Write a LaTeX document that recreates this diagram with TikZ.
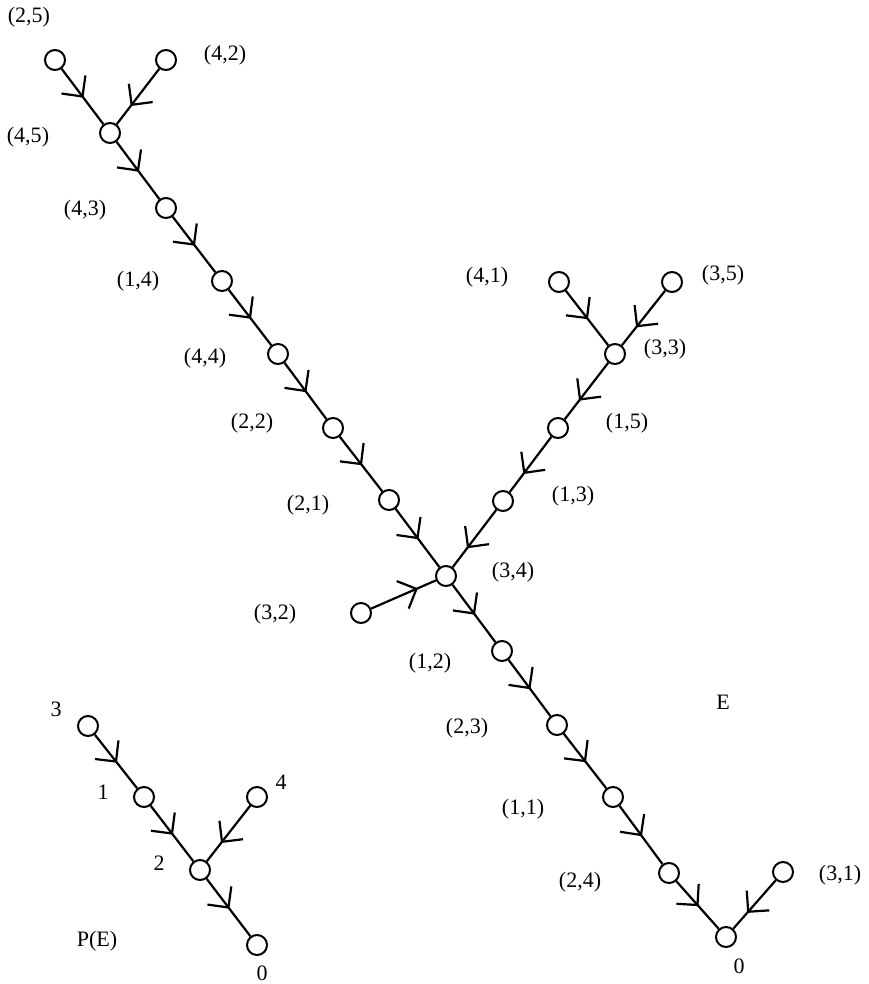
\documentclass[tikz,border=0pt]{standalone}
\usepackage{fontspec}
\setmainfont{Liberation Serif}
\usepackage{tikz}
\usetikzlibrary{arrows.meta, decorations.markings, positioning}

\begin{document}
\begin{tikzpicture}[
  x=1pt, y=-1pt,
  vert/.style={circle, draw, line width=2pt, inner sep=0pt, minimum size=20pt},
  lab/.style={inner sep=0pt, font=\fontsize{22}{26}\selectfont},
  arr/.style={line width=2.2pt, postaction={decorate},
    decoration={markings, mark=at position #1 with {\draw[line width=2.2pt] (-15pt,15pt) -- (0pt,0pt) -- (-15pt,-15pt);}}},
  arr/.default=0.5
]
\useasboundingbox (0,0) rectangle (869,984);

% tree E
\node[vert] (n25) at (55,60) {};
\node[vert] (n42) at (166,60) {};
\node[vert] (n45) at (110,133) {};
\node[vert] (n43) at (166,208) {};
\node[vert] (n14) at (222,281) {};
\node[vert] (n44) at (278,354) {};
\node[vert] (n22) at (333,428) {};
\node[vert] (n21) at (389,500) {};
\node[vert] (n34) at (446,576) {};
\node[vert] (n32) at (361,613) {};
\node[vert] (n12) at (502,651) {};
\node[vert] (n23) at (557,725) {};
\node[vert] (n11) at (613,797) {};
\node[vert] (n24) at (669,873) {};
\node[vert] (n0) at (726,937) {};
\node[vert] (n31) at (783,872) {};
\node[vert] (n41) at (559,282) {};
\node[vert] (n35) at (672,282) {};
\node[vert] (n33) at (615,354) {};
\node[vert] (n15) at (558,428) {};
\node[vert] (n13) at (503,501) {};

\node[lab] (l25) at (29,17) {(2,5)};
\node[lab] (l42) at (225,55) {(4,2)};
\node[lab] (l45) at (28,137) {(4,5)};
\node[lab] (l43) at (85,210) {(4,3)};
\node[lab] (l14) at (138,281) {(1,4)};
\node[lab] (l44) at (205,358) {(4,4)};
\node[lab] (l22) at (252,423) {(2,2)};
\node[lab] (l21) at (308,505) {(2,1)};
\node[lab] (l34) at (513,572) {(3,4)};
\node[lab] (l32) at (275,614) {(3,2)};
\node[lab] (l12) at (430,663) {(1,2)};
\node[lab] (l23) at (467,728) {(2,3)};
\node[lab] (l11) at (523,809) {(1,1)};
\node[lab] (l24) at (580,882) {(2,4)};
\node[lab] (l0) at (739,966) {0};
\node[lab] (l31) at (840,875) {(3,1)};
\node[lab] (l41) at (487,277) {(4,1)};
\node[lab] (l35) at (723,275) {(3,5)};
\node[lab] (l33) at (665,349) {(3,3)};
\node[lab] (l15) at (627,423) {(1,5)};
\node[lab] (l13) at (573,496) {(1,3)};
\node[lab] (lE) at (723,702) {E};

\draw[arr] (n25) -- (n45);
\draw[arr=0.65] (n42) -- (n45);
\draw[arr] (n45) -- (n43);
\draw[arr] (n43) -- (n14);
\draw[arr] (n14) -- (n44);
\draw[arr] (n44) -- (n22);
\draw[arr] (n22) -- (n21);
\draw[arr] (n21) -- (n34);
\draw[arr] (n41) -- (n33);
\draw[arr=0.65] (n35) -- (n33);
\draw[arr=0.65] (n33) -- (n15);
\draw[arr=0.65] (n15) -- (n13);
\draw[arr=0.65] (n13) -- (n34);
\draw[arr=0.7] (n32) -- (n34);
\draw[arr] (n34) -- (n12);
\draw[arr] (n12) -- (n23);
\draw[arr] (n23) -- (n11);
\draw[arr] (n11) -- (n24);
\draw[arr] (n24) -- (n0);
\draw[arr=0.65] (n31) -- (n0);

% tree P(E)
\node[vert] (p3) at (88,726) {};
\node[vert] (p1) at (144,797) {};
\node[vert] (p2) at (200,870) {};
\node[vert] (p4) at (257,797) {};
\node[vert] (p0) at (257,945) {};

\node[lab] (q3) at (56,709) {3};
\node[lab] (q1) at (103,792) {1};
\node[lab] (q2) at (159,863) {2};
\node[lab] (q4) at (281,782) {4};
\node[lab] (q0) at (262,973) {0};
\node[lab] (qP) at (97,941) {P(E)};

\draw[arr] (p3) -- (p1);
\draw[arr] (p1) -- (p2);
\draw[arr=0.65] (p4) -- (p2);
\draw[arr] (p2) -- (p0);
\end{tikzpicture}
\end{document}
